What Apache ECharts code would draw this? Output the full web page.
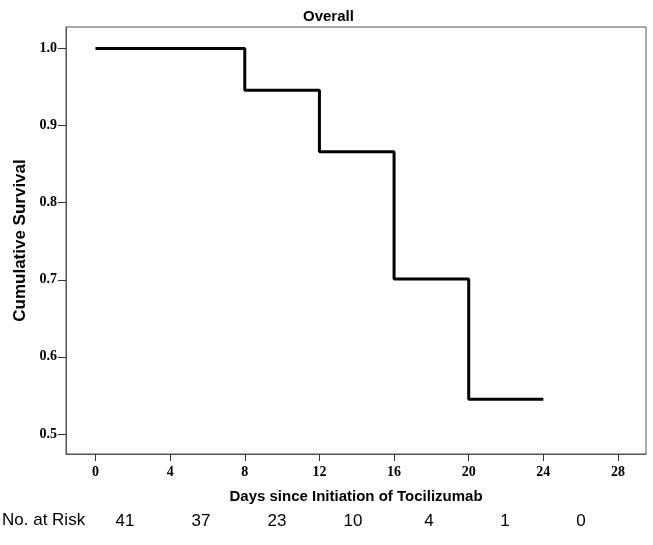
<!DOCTYPE html>
<html>
<head>
<meta charset="utf-8">
<script src="https://cdn.jsdelivr.net/npm/echarts@6/dist/echarts.min.js"></script>
<style>html,body{margin:0;padding:0;background:#fff}#c{width:653px;height:545px}</style>
</head>
<body>
<div id="c"></div>
<script>
const days = [0, 8, 12, 16, 20, 24];
const survival = [1.0, 0.946, 0.866, 0.701, 0.545, 0.545];
const xTicks = [0, 4, 8, 12, 16, 20, 24, 28];
const yTicks = [0.5, 0.6, 0.7, 0.8, 0.9, 1.0];
const atRisk = ['41', '37', '23', '10', '4', '1', '0'];

const chart = echarts.init(document.getElementById('c'));
const serifBold = {fontFamily: 'Liberation Serif', fontWeight: 'bold', fontSize: 14, color: '#000'};
chart.setOption({
  animation: false,
  title: {
    text: 'Overall', left: 298, top: 4,
    textStyle: {fontFamily: 'Liberation Sans', fontWeight: 'bold', fontSize: 15, color: '#000'}
  },
  grid: [
    {left: 66, top: 27, right: 7, bottom: 91, show: true, borderColor: '#555', borderWidth: 1, backgroundColor: '#fff'},
    {left: 87, width: 532, top: 512, height: 1}
  ],
  xAxis: [{
    type: 'value', gridIndex: 0, min: -1.58, max: 29.5,
    splitLine: {show: false},
    axisLine: {show: true, onZero: false, lineStyle: {color: '#555', width: 1}},
    axisTick: {show: true, length: 7, inside: false, customValues: xTicks, lineStyle: {color: '#333'}},
    axisLabel: Object.assign({customValues: xTicks, margin: 11}, serifBold),
    name: 'Days since Initiation of Tocilizumab', nameLocation: 'middle', nameGap: 35,
    nameTextStyle: {fontFamily: 'Liberation Sans', fontWeight: 'bold', fontSize: 15, color: '#000'}
  }, {
    type: 'category', gridIndex: 1, data: atRisk, boundaryGap: true,
    axisLine: {show: false}, axisTick: {show: false},
    axisLabel: {fontFamily: 'Liberation Sans', fontSize: 17, color: '#000', margin: 0, interval: 0}
  }],
  yAxis: [{
    type: 'value', gridIndex: 0, min: 0.474, max: 1.028,
    splitLine: {show: false},
    axisLine: {show: true, onZero: false, lineStyle: {color: '#555', width: 1}},
    axisTick: {show: true, length: 8, inside: false, customValues: yTicks, lineStyle: {color: '#333'}},
    axisLabel: Object.assign({customValues: yTicks, margin: 9, formatter: v => v.toFixed(1)}, serifBold),
    name: 'Cumulative Survival', nameLocation: 'middle', nameGap: 35,
    nameTextStyle: {fontFamily: 'Liberation Sans', fontWeight: 'bold', fontSize: 17, color: '#000'}
  }, {
    type: 'value', gridIndex: 1, show: false
  }],
  graphic: [{
    type: 'text', left: 2, top: 512,
    style: {text: 'No. at Risk', font: '17px "Liberation Sans"', fill: '#000'}
  }],
  series: [{
    type: 'line', xAxisIndex: 0, yAxisIndex: 0, step: 'end', showSymbol: false,
    data: days.map((d, i) => [d, survival[i]]),
    lineStyle: {color: '#000', width: 3}
  }]
});
</script>
</body>
</html>
